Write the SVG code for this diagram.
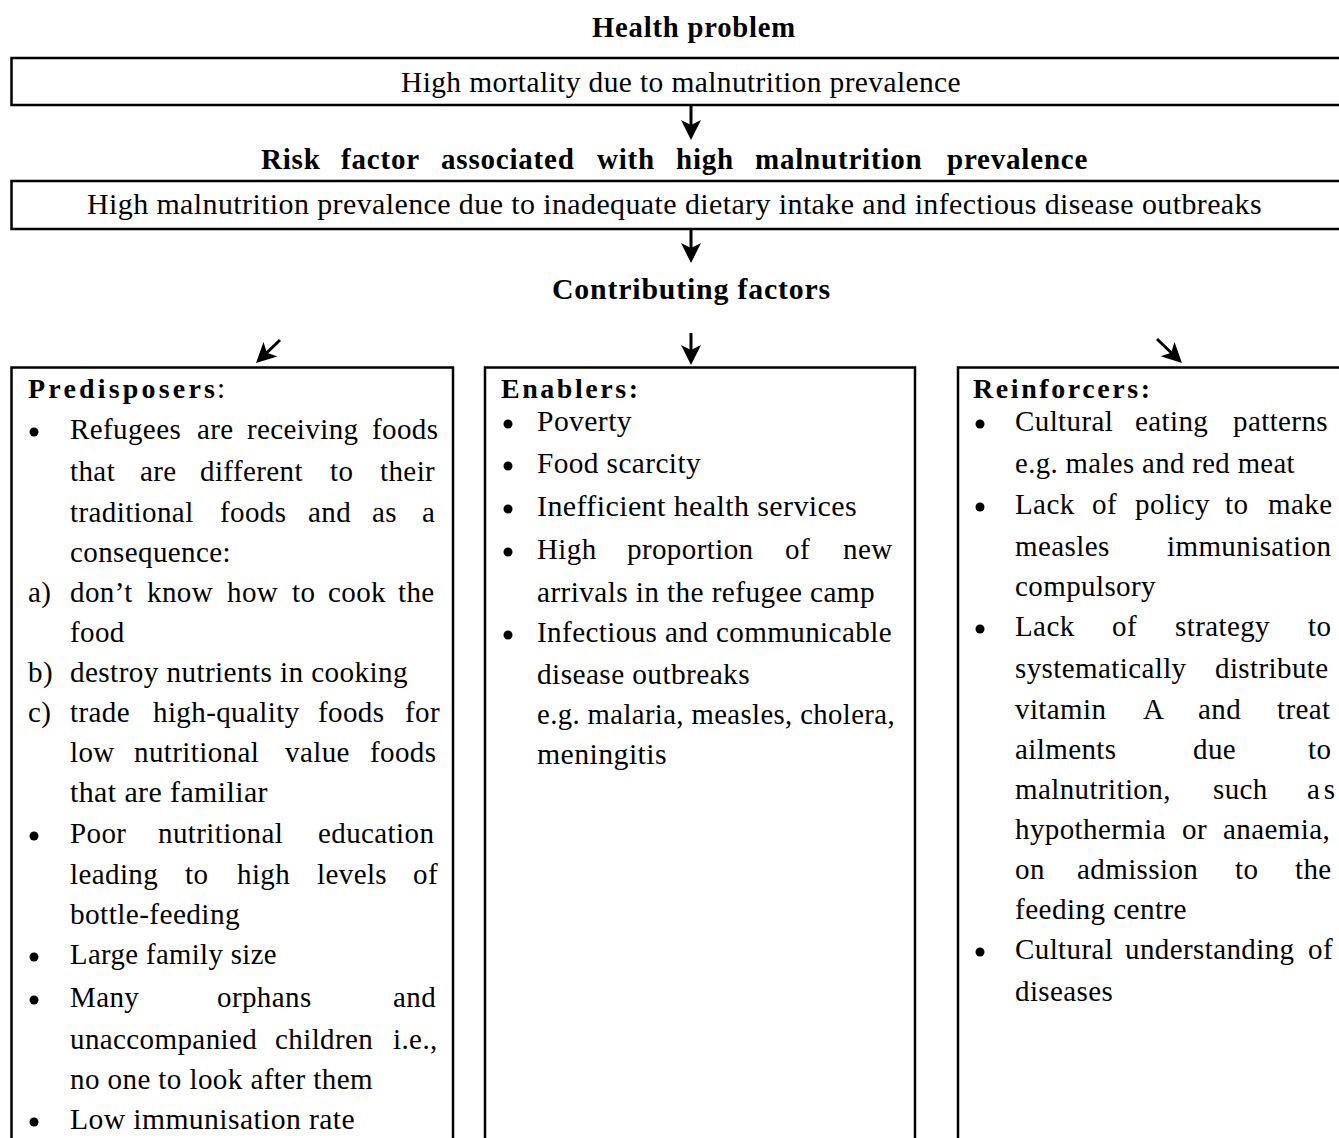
<svg xmlns="http://www.w3.org/2000/svg" width="1339" height="1138" viewBox="0 0 1339 1138">
<style>
text{font-family:"Liberation Serif","Times New Roman",Times,serif;fill:#000}
.r{font-size:29px;letter-spacing:0.4px}
.h{font-size:29px;font-weight:bold;letter-spacing:0.8px}
.ct{font-size:28px;font-weight:bold}
.box{fill:none;stroke:#000;stroke-width:2.5}
.con{fill:none;stroke:#000;stroke-width:3}
.bul{fill:#000}
</style>
<defs>
<marker id="ah" viewBox="0 -11 21 22" refX="12" refY="0" markerWidth="21" markerHeight="22" markerUnits="userSpaceOnUse" orient="auto">
<path d="M0,-10 L20,0 L0,10 L5,0 Z" fill="#000"/>
</marker>
</defs>
<rect width="1339" height="1138" fill="#fff"/>

<g id="title-health-problem">
<text class="h" x="592" y="37" textLength="204" lengthAdjust="spacingAndGlyphs">Health problem</text>
</g>
<g id="node-health-problem">
<rect class="box" x="11.5" y="58" width="1345" height="47"/>
<text class="r" x="401" y="92" textLength="560" lengthAdjust="spacingAndGlyphs">High mortality due to malnutrition prevalence</text>
</g>

<g id="title-risk-factor">
<text class="h" y="169"><tspan x="261">Risk</tspan><tspan x="341">factor</tspan><tspan x="441">associated</tspan><tspan x="597">with</tspan><tspan x="676">high</tspan><tspan x="755">malnutrition</tspan><tspan x="947">prevalence</tspan></text>
</g>
<g id="node-risk-factor">
<rect class="box" x="11.5" y="181" width="1345" height="48"/>
<text class="r" x="87" y="214" textLength="1175" lengthAdjust="spacingAndGlyphs">High malnutrition prevalence due to inadequate dietary intake and infectious disease outbreaks</text>
</g>

<g id="title-contributing-factors">
<text class="h" x="552" y="299" textLength="279" lengthAdjust="spacingAndGlyphs">Contributing factors</text>
</g>

<g id="node-predisposers">
<rect class="box" x="11.5" y="367.5" width="441.5" height="800"/>
<text class="ct" x="28" y="398" textLength="187" lengthAdjust="spacing">Predisposers</text>
<text class="r" x="217" y="398">:</text>
<circle class="bul" cx="34" cy="432" r="4.5"/>
<text class="r" y="439"><tspan x="70">Refugees</tspan><tspan x="197">are</tspan><tspan x="247">receiving</tspan><tspan x="372">foods</tspan></text>
<text class="r" y="481"><tspan x="70">that</tspan><tspan x="140">are</tspan><tspan x="200">different</tspan><tspan x="330">to</tspan><tspan x="380">their</tspan></text>
<text class="r" y="522"><tspan x="70">traditional</tspan><tspan x="220">foods</tspan><tspan x="308">and</tspan><tspan x="372">as</tspan><tspan x="422">a</tspan></text>
<text class="r" x="70" y="562">consequence:</text>
<text class="r" x="28" y="602">a)</text>
<text class="r" y="602"><tspan x="70">don’t</tspan><tspan x="147">know</tspan><tspan x="227">how</tspan><tspan x="292">to</tspan><tspan x="328">cook</tspan><tspan x="398">the</tspan></text>
<text class="r" x="70" y="642">food</text>
<text class="r" x="28" y="682">b)</text>
<text class="r" x="70" y="682" textLength="338" lengthAdjust="spacingAndGlyphs">destroy nutrients in cooking</text>
<text class="r" x="28" y="722">c)</text>
<text class="r" y="722"><tspan x="70">trade</tspan><tspan x="153">high-quality</tspan><tspan x="318">foods</tspan><tspan x="405">for</tspan></text>
<text class="r" y="762"><tspan x="70">low</tspan><tspan x="134">nutritional</tspan><tspan x="285">value</tspan><tspan x="370">foods</tspan></text>
<text class="r" x="70" y="802" textLength="198" lengthAdjust="spacingAndGlyphs">that are familiar</text>
<circle class="bul" cx="34" cy="836" r="4.5"/>
<text class="r" y="843"><tspan x="70">Poor</tspan><tspan x="158">nutritional</tspan><tspan x="318">education</tspan></text>
<text class="r" y="884"><tspan x="70">leading</tspan><tspan x="185">to</tspan><tspan x="237">high</tspan><tspan x="317">levels</tspan><tspan x="413">of</tspan></text>
<text class="r" x="70" y="924" textLength="170" lengthAdjust="spacingAndGlyphs">bottle-feeding</text>
<circle class="bul" cx="34" cy="957" r="4.5"/>
<text class="r" x="70" y="964" textLength="207" lengthAdjust="spacingAndGlyphs">Large family size</text>
<circle class="bul" cx="34" cy="1000" r="4.5"/>
<text class="r" y="1007"><tspan x="70">Many</tspan><tspan x="217">orphans</tspan><tspan x="393">and</tspan></text>
<text class="r" y="1049"><tspan x="70">unaccompanied</tspan><tspan x="275">children</tspan><tspan x="393">i.e.,</tspan></text>
<text class="r" x="70" y="1089" textLength="303" lengthAdjust="spacingAndGlyphs">no one to look after them</text>
<circle class="bul" cx="34" cy="1122" r="4.5"/>
<text class="r" x="70" y="1129" textLength="285" lengthAdjust="spacingAndGlyphs">Low immunisation rate</text>
</g>

<g id="node-enablers">
<rect class="box" x="485" y="367.5" width="430" height="800"/>
<text class="ct" x="501" y="398" textLength="137" lengthAdjust="spacing">Enablers:</text>
<circle class="bul" cx="508" cy="424" r="4.5"/>
<text class="r" x="537" y="431" textLength="95" lengthAdjust="spacingAndGlyphs">Poverty</text>
<circle class="bul" cx="508" cy="466" r="4.5"/>
<text class="r" x="537" y="473" textLength="164" lengthAdjust="spacingAndGlyphs">Food scarcity</text>
<circle class="bul" cx="508" cy="509" r="4.5"/>
<text class="r" x="537" y="516" textLength="320" lengthAdjust="spacingAndGlyphs">Inefficient health services</text>
<circle class="bul" cx="508" cy="552" r="4.5"/>
<text class="r" y="559"><tspan x="537">High</tspan><tspan x="627">proportion</tspan><tspan x="785">of</tspan><tspan x="843">new</tspan></text>
<text class="r" x="537" y="602" textLength="338" lengthAdjust="spacingAndGlyphs">arrivals in the refugee camp</text>
<circle class="bul" cx="508" cy="635" r="4.5"/>
<text class="r" x="537" y="642" textLength="355" lengthAdjust="spacingAndGlyphs">Infectious and communicable</text>
<text class="r" x="537" y="684" textLength="213" lengthAdjust="spacingAndGlyphs">disease outbreaks</text>
<text class="r" x="537" y="724" textLength="358" lengthAdjust="spacingAndGlyphs">e.g. malaria, measles, cholera,</text>
<text class="r" x="537" y="764" textLength="130" lengthAdjust="spacingAndGlyphs">meningitis</text>
</g>

<g id="node-reinforcers">
<rect class="box" x="958" y="367.5" width="400" height="800"/>
<text class="ct" x="973" y="398" textLength="177" lengthAdjust="spacing">Reinforcers:</text>
<circle class="bul" cx="980" cy="424" r="4.5"/>
<text class="r" y="431"><tspan x="1015">Cultural</tspan><tspan x="1135">eating</tspan><tspan x="1233">patterns</tspan></text>
<text class="r" x="1015" y="473" textLength="280" lengthAdjust="spacingAndGlyphs">e.g. males and red meat</text>
<circle class="bul" cx="980" cy="507" r="4.5"/>
<text class="r" y="514"><tspan x="1015">Lack</tspan><tspan x="1092">of</tspan><tspan x="1135">policy</tspan><tspan x="1225">to</tspan><tspan x="1268">make</tspan></text>
<text class="r" y="556"><tspan x="1015">measles</tspan><tspan x="1167">immunisation</tspan></text>
<text class="r" x="1015" y="596">compulsory</text>
<circle class="bul" cx="980" cy="629" r="4.5"/>
<text class="r" y="636"><tspan x="1015">Lack</tspan><tspan x="1112">of</tspan><tspan x="1175">strategy</tspan><tspan x="1308">to</tspan></text>
<text class="r" y="678"><tspan x="1015">systematically</tspan><tspan x="1215">distribute</tspan></text>
<text class="r" y="719"><tspan x="1015">vitamin</tspan><tspan x="1143">A</tspan><tspan x="1198">and</tspan><tspan x="1277">treat</tspan></text>
<text class="r" y="759"><tspan x="1015">ailments</tspan><tspan x="1193">due</tspan><tspan x="1308">to</tspan></text>
<text class="r" y="799"><tspan x="1015">malnutrition,</tspan><tspan x="1213">such</tspan><tspan x="1307" letter-spacing="4">as</tspan></text>
<text class="r" y="839"><tspan x="1015">hypothermia</tspan><tspan x="1182">or</tspan><tspan x="1223">anaemia,</tspan></text>
<text class="r" y="879"><tspan x="1015">on</tspan><tspan x="1077">admission</tspan><tspan x="1235">to</tspan><tspan x="1295">the</tspan></text>
<text class="r" x="1015" y="919" textLength="172" lengthAdjust="spacingAndGlyphs">feeding centre</text>
<circle class="bul" cx="980" cy="952" r="4.5"/>
<text class="r" y="959"><tspan x="1015">Cultural</tspan><tspan x="1125">understanding</tspan><tspan x="1308">of</tspan></text>
<text class="r" x="1015" y="1001">diseases</text>
</g>

<g id="connectors">
<line class="con" x1="691" y1="106" x2="691" y2="132" marker-end="url(#ah)"/>
<line class="con" x1="691" y1="230" x2="691" y2="255" marker-end="url(#ah)"/>
<line class="con" x1="280" y1="340" x2="261.8" y2="357.5" marker-end="url(#ah)"/>
<line class="con" x1="691" y1="333" x2="691" y2="357" marker-end="url(#ah)"/>
<line class="con" x1="1157" y1="339" x2="1176.2" y2="357.5" marker-end="url(#ah)"/>
</g>
</svg>
